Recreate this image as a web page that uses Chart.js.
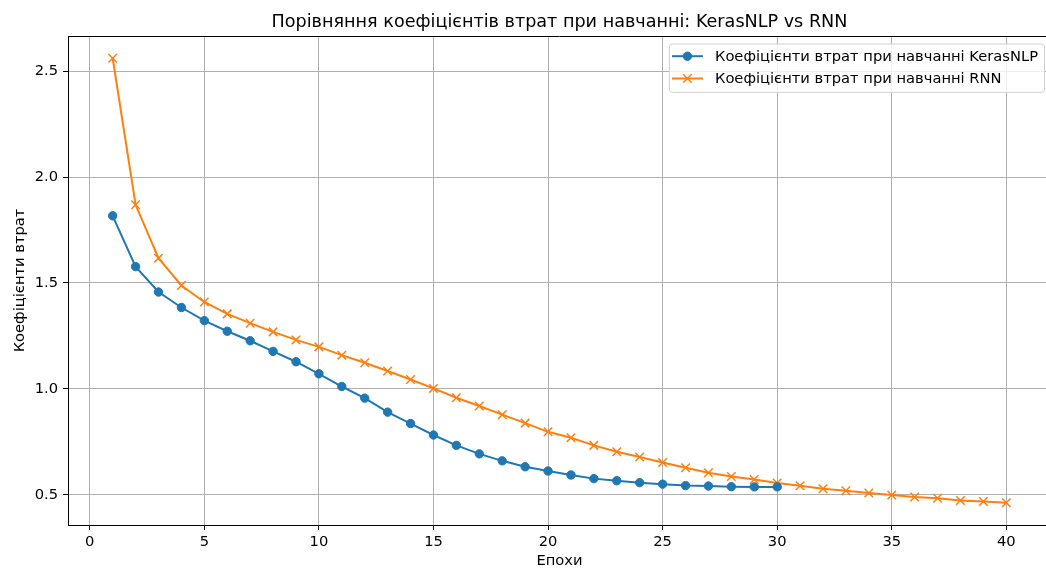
<!DOCTYPE html>
<html>
<head>
<meta charset="utf-8">
<script src="https://cdn.jsdelivr.net/npm/chart.js@4.4.1/dist/chart.umd.min.js"></script>
<style>
  html, body { margin: 0; padding: 0; background: #fff; overflow: hidden; }
  #wrap { width: 1060px; height: 569px; }
</style>
</head>
<body>
<div id="wrap"><canvas id="grafico" width="1060" height="569"></canvas></div>
<script>
// дані
var epochsKeras = [1, 2, 3, 4, 5, 6, 7, 8, 9, 10, 11, 12, 13, 14, 15, 16, 17, 18, 19, 20,
                   21, 22, 23, 24, 25, 26, 27, 28, 29, 30];
var epochsRnn = [1, 2, 3, 4, 5, 6, 7, 8, 9, 10, 11, 12, 13, 14, 15, 16, 17, 18, 19, 20,
                 21, 22, 23, 24, 25, 26, 27, 28, 29, 30, 31, 32, 33, 34, 35, 36, 37, 38, 39, 40];
var lossKeras = [1.817, 1.577, 1.457, 1.384, 1.322, 1.272, 1.227, 1.177, 1.128, 1.071,
                 1.011, 0.956, 0.890, 0.836, 0.782, 0.733, 0.693, 0.660, 0.632, 0.612,
                 0.593, 0.576, 0.566, 0.557, 0.550, 0.543, 0.541, 0.538, 0.537, 0.537];
var lossRnn = [2.561, 1.869, 1.617, 1.488, 1.410, 1.354, 1.310, 1.269, 1.231, 1.198,
               1.159, 1.123, 1.084, 1.044, 1.002, 0.958, 0.919, 0.878, 0.838, 0.797,
               0.769, 0.733, 0.703, 0.678, 0.652, 0.627, 0.604, 0.586, 0.572, 0.555,
               0.542, 0.528, 0.519, 0.508, 0.499, 0.489, 0.483, 0.473, 0.468, 0.462];
var xTicks = [0, 5, 10, 15, 20, 25, 30, 35, 40];
var yTicks = [0.5, 1.0, 1.5, 2.0, 2.5];

var titulo = "Порівняння коефіцієнтів втрат при навчанні: KerasNLP vs RNN";
var nombreKeras = "Коефіцієнти втрат при навчанні KerasNLP";
var nombreRnn = "Коефіцієнти втрат при навчанні RNN";

var azul = "#1f77b4";
var naranja = "#ff7f0e";
var fuente = "'DejaVu Sans', sans-serif";

function puntos(xs, ys) {
    return xs.map(function (x, i) { return { x: x, y: ys[i] }; });
}

// limites como matplotlib (5% de margen)
var allX = epochsRnn.concat(epochsKeras);
var allY = lossRnn.concat(lossKeras);
var xMin = Math.min.apply(null, allX), xMax = Math.max.apply(null, allX);
var yMin = Math.min.apply(null, allY), yMax = Math.max.apply(null, allY);
var xPad = (xMax - xMin) * 0.05, yPad = (yMax - yMin) * 0.05;

var extras = {
    id: "extras",
    afterDraw: function (chart) {
        var ctx = chart.ctx;
        var area = chart.chartArea;
        ctx.save();

        // borde superior
        ctx.strokeStyle = "#000";
        ctx.lineWidth = 1;
        ctx.beginPath();
        ctx.moveTo(area.left, Math.round(area.top) + 0.5);
        ctx.lineTo(area.right, Math.round(area.top) + 0.5);
        ctx.stroke();

        // titulo
        ctx.fillStyle = "#000";
        ctx.font = "17.6px " + fuente;
        ctx.textAlign = "center";
        ctx.textBaseline = "alphabetic";
        ctx.fillText(titulo, (area.left + area.right) / 2, 27);

        // leyenda dentro del area
        ctx.font = "14.7px " + fuente;
        var w1 = ctx.measureText(nombreKeras).width;
        var w2 = ctx.measureText(nombreRnn).width;
        var boxW = 3 + 31 + 12 + Math.max(w1, w2) + 6;
        var boxH = 48.4;
        var bx = area.right - 7 - boxW;
        var by = area.top + 7.5;
        ctx.beginPath();
        ctx.roundRect(bx + 0.5, by + 0.5, boxW, boxH, 3);
        ctx.fillStyle = "rgba(255,255,255,0.8)";
        ctx.fill();
        ctx.strokeStyle = "#d0d0d0";
        ctx.lineWidth = 1;
        ctx.stroke();

        var filas = [
            { txt: nombreKeras, color: azul, estilo: "circle", r: 4.2, bw: 1 },
            { txt: nombreRnn, color: naranja, estilo: "crossRot", r: 6, bw: 1.5 }
        ];
        filas.forEach(function (f, i) {
            var cy = by + 12.7 + i * 22.3;
            var x0 = bx + 3;
            ctx.strokeStyle = f.color;
            ctx.lineWidth = 2;
            ctx.beginPath();
            ctx.moveTo(x0, cy);
            ctx.lineTo(x0 + 31, cy);
            ctx.stroke();
            ctx.fillStyle = f.color;
            ctx.lineWidth = f.bw;
            Chart.helpers.drawPoint(ctx, { pointStyle: f.estilo, radius: f.r, borderWidth: f.bw, rotation: 0 }, x0 + 15.5, cy);
            ctx.fillStyle = "#000";
            ctx.textAlign = "left";
            ctx.textBaseline = "middle";
            ctx.fillText(f.txt, x0 + 31 + 12, cy + 0.5);
        });
        ctx.restore();
    }
};

var grafico = new Chart(document.querySelector("#grafico"), {
    type: "line",
    data: {
        datasets: [{
            label: nombreKeras,
            data: puntos(epochsKeras, lossKeras),
            borderColor: azul,
            backgroundColor: azul,
            borderWidth: 2,
            pointStyle: "circle",
            pointRadius: 4.2,
            pointBorderWidth: 1,
            pointHoverRadius: 4.2,
            tension: 0
        }, {
            label: nombreRnn,
            data: puntos(epochsRnn, lossRnn),
            borderColor: naranja,
            backgroundColor: naranja,
            borderWidth: 2,
            pointStyle: "crossRot",
            pointRadius: 6,
            pointBorderWidth: 1.5,
            pointHoverRadius: 6,
            tension: 0
        }]
    },
    options: {
        responsive: false,
        animation: false,
        devicePixelRatio: 1,
        layout: { padding: { top: 36, right: 9, left: 0, bottom: 0 } },
        plugins: {
            legend: { display: false },
            title: { display: false },
            tooltip: { enabled: false }
        },
        scales: {
            x: {
                type: "linear",
                min: xMin - xPad,
                max: xMax + xPad,
                afterFit: function (s) { s.height = 44; },
                afterBuildTicks: function (s) {
                    s.ticks = xTicks.map(function (v) { return { value: v }; });
                },
                grid: { color: "#b0b0b0", lineWidth: 1, tickColor: "#000", tickLength: 5, drawTicks: true },
                border: { display: true, color: "#000", width: 1 },
                ticks: {
                    color: "#000",
                    font: { family: fuente, size: 14.7 },
                    padding: 3,
                    maxRotation: 0,
                    callback: function (v) { return String(v); }
                },
                title: {
                    display: true,
                    text: "Епохи",
                    color: "#000",
                    font: { family: fuente, size: 14.7, lineHeight: 1 },
                    padding: { top: 0, bottom: 0 }
                }
            },
            y: {
                min: yMin - yPad,
                max: yMax + yPad,
                afterFit: function (s) { s.width = 68; },
                afterBuildTicks: function (s) {
                    s.ticks = yTicks.map(function (v) { return { value: v }; });
                },
                grid: { color: "#b0b0b0", lineWidth: 1, tickColor: "#000", tickLength: 5, drawTicks: true },
                border: { display: true, color: "#000", width: 1 },
                ticks: {
                    color: "#000",
                    font: { family: fuente, size: 14.7 },
                    padding: 5,
                    callback: function (v) { return Number(v).toFixed(1); }
                },
                title: {
                    display: true,
                    text: "Коефіцієнти втрат",
                    color: "#000",
                    font: { family: fuente, size: 14.7, lineHeight: 1 },
                    padding: { top: 12.5, bottom: 0 }
                }
            }
        }
    },
    plugins: [extras]
});
</script>
</body>
</html>
